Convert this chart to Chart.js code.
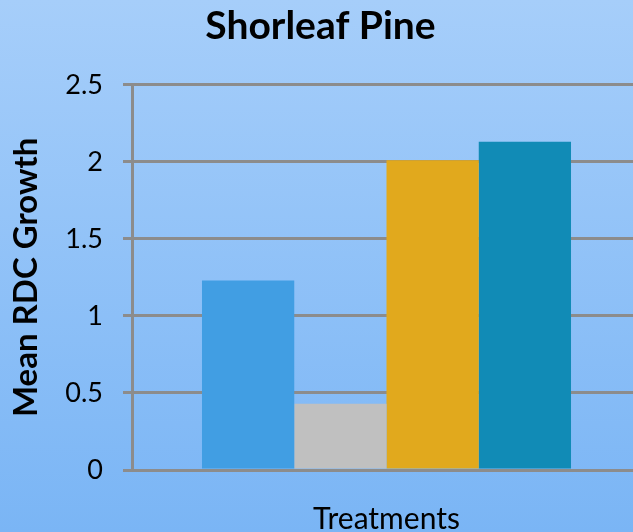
<!DOCTYPE html>
<html>
<head>
<meta charset="utf-8">
<script src="https://cdn.jsdelivr.net/npm/chart.js@4.4.1/dist/chart.umd.min.js"></script>
<style>
  html, body { margin: 0; padding: 0; overflow: hidden; background: linear-gradient(#a6cefa, #7ab5f5); }
  .wrap { width: 641px; height: 532px; position: relative; }
</style>
</head>
<body>
<div class="wrap"><canvas id="myChart"></canvas></div>
<script>
let categories = [""];
let seriesNames = ["Treatment 1", "Treatment 2", "Treatment 3", "Treatment 4"];
let seriesValues = [1.23, 0.43, 2.01, 2.13];
let seriesColors = ["#419ee3", "#c0c0c0", "#e1a91d", "#118bb6"];
let yTicks = ["0", "0.5", "1", "1.5", "2", "2.5"];

let gridColor = "#8c8c8c";
let fontFace = "Lato, 'Open Sans', sans-serif";

// light blue vertical gradient behind the whole chart
const background = {
  id: "background",
  beforeDraw(chart) {
    const { ctx, width, height } = chart;
    const g = ctx.createLinearGradient(0, 0, 0, height);
    g.addColorStop(0, "#a6cefa");
    g.addColorStop(1, "#7ab5f5");
    ctx.save();
    ctx.fillStyle = g;
    ctx.fillRect(0, 0, width, height);
    ctx.restore();
  },
};

let datasets = seriesNames.map((name, i) => ({
  label: name,
  data: [seriesValues[i]],
  backgroundColor: seriesColors[i],
  borderWidth: 0,
  barPercentage: 1,
  categoryPercentage: 0.725,
}));

const ctx = document.getElementById("myChart");
new Chart(ctx, {
  type: "bar",
  data: { labels: categories, datasets: datasets },
  plugins: [background],
  options: {
    responsive: true,
    maintainAspectRatio: false,
    animation: false,
    layout: { padding: 0 },
    plugins: {
      legend: { display: false },
      tooltip: { enabled: false },
      title: {
        display: true,
        text: "Shorleaf Pine",
        color: "#000",
        font: { family: fontFace, size: 39, weight: "bold" },
        padding: { top: 3, bottom: 35 },
      },
    },
    scales: {
      x: {
        afterFit(scale) {
          scale.height = 62;
        },
        grid: { display: false, drawTicks: false },
        border: { display: false },
        ticks: { display: false },
        title: {
          display: true,
          text: "Treatments",
          color: "#000",
          font: { family: fontFace, size: 30, lineHeight: 0.85 },
          padding: { top: 0, bottom: 0 },
        },
      },
      y: {
        min: 0,
        max: 2.5,
        afterFit(scale) {
          scale.width = 132;
        },
        grid: { color: gridColor, lineWidth: 3, tickLength: 9 },
        border: { color: gridColor, width: 3 },
        ticks: {
          stepSize: 0.5,
          padding: 20,
          color: "#000",
          font: { family: fontFace, size: 27 },
          callback: (v, i) => yTicks[i],
        },
        title: {
          display: true,
          text: "Mean RDC Growth",
          color: "#000",
          font: { family: fontFace, size: 33, weight: "bold" },
          padding: { top: 7, bottom: 0 },
        },
      },
    },
  },
});
</script>
</body>
</html>
